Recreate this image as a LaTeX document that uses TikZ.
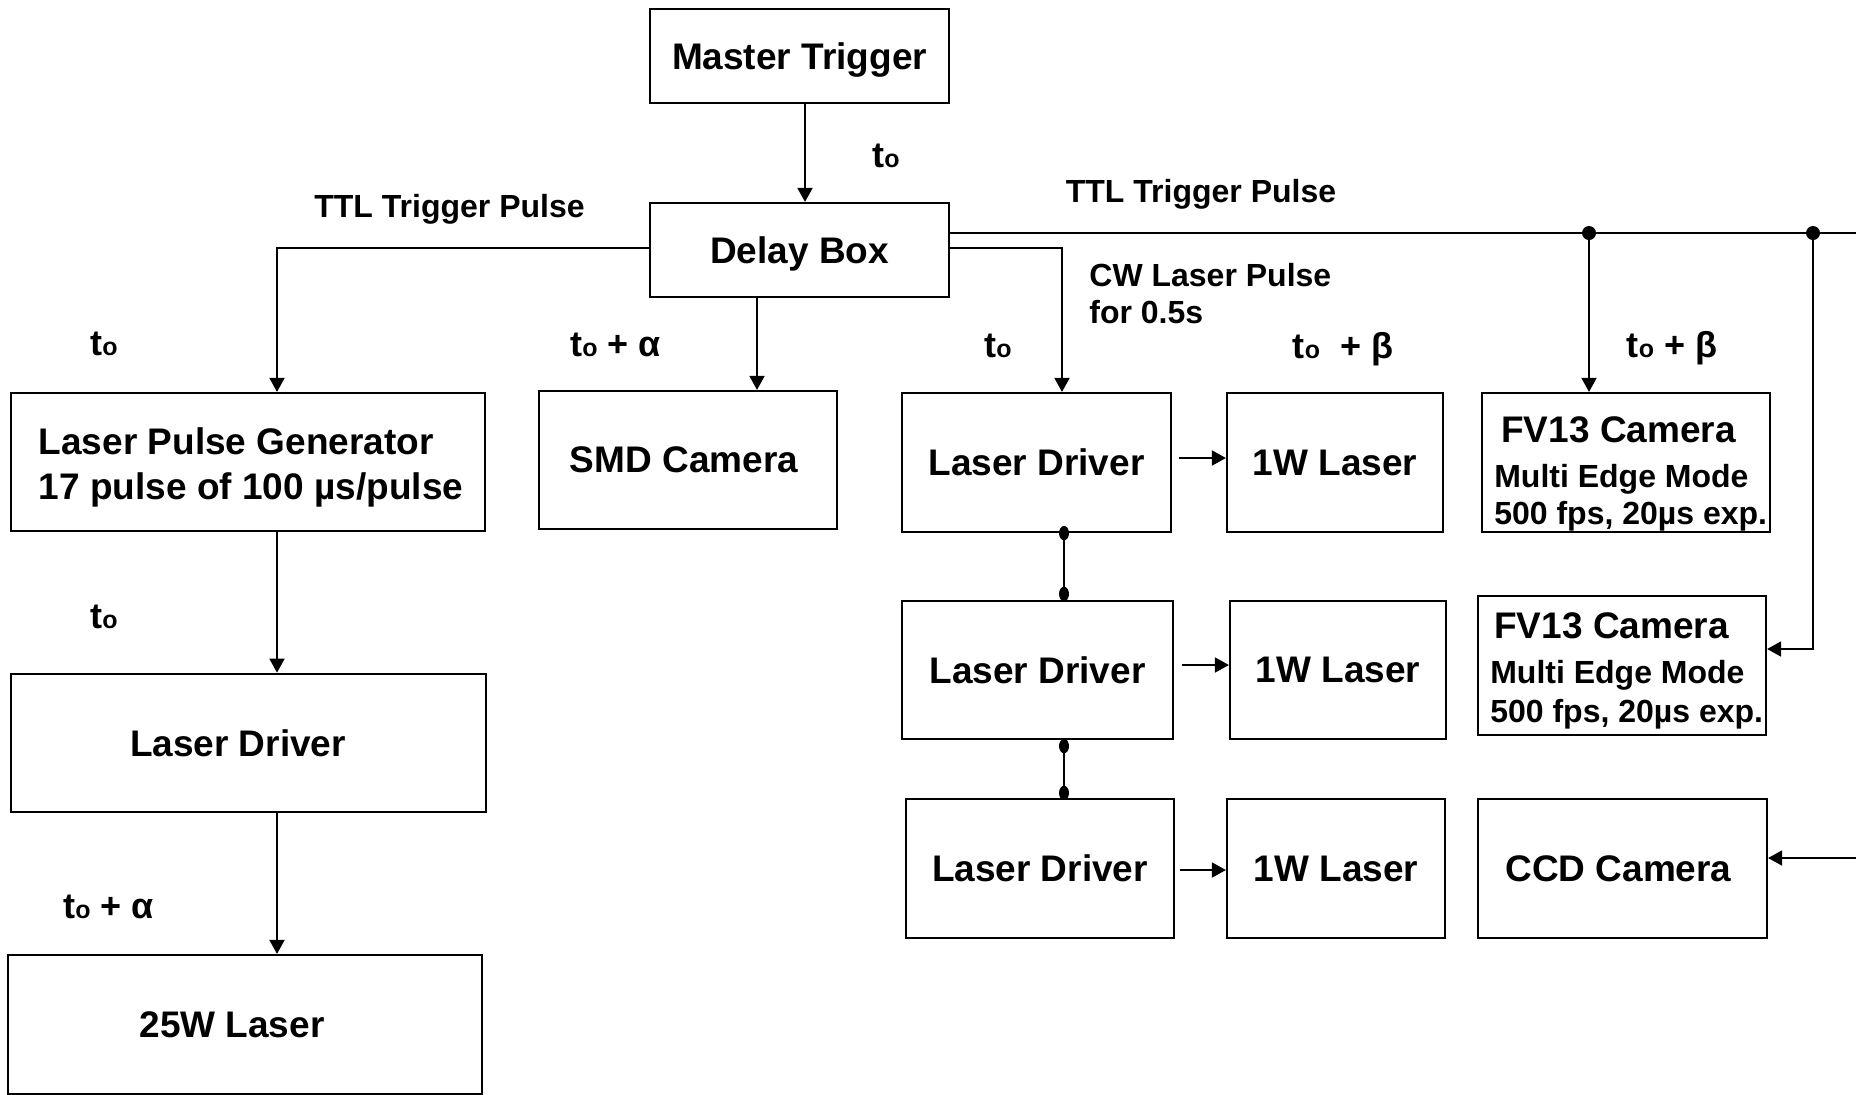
\documentclass[tikz,border=0pt]{standalone}
\usepackage{fontspec}
\setmainfont{Liberation Sans}
\usetikzlibrary{arrows.meta,calc}
\newcommand{\tz}{t{\fontsize{12.5}{12.5}\selectfont o}}
\newcommand{\bigtxt}{\fontsize{18.5}{22}\selectfont}
\begin{document}
\begin{tikzpicture}[x=0.5pt,y=-0.5pt,
  box/.style={draw, line width=1.1pt, inner sep=0pt, font=\bigtxt\bfseries, anchor=center},
  lbl/.style={font=\fontsize{16}{18.5}\selectfont\bfseries, inner sep=0pt},
  tl/.style={font=\fontsize{18}{20}\selectfont\bfseries, inner sep=0pt, anchor=base},
  con/.style={line width=0.85pt},
  arr/.style={con, -{Triangle[length=7pt,width=7.5pt]}},
]
\useasboundingbox (0,0) rectangle (1856,1094);

% boxes
\node[box, minimum width=149.5pt, minimum height=47pt, text depth=0pt] (mt) at (799.5,56) {Master Trigger};
\node[box, minimum width=149.5pt, minimum height=47pt, text depth=0pt] (db) at (799.5,250) {Delay Box};
\node[box, minimum width=237pt, minimum height=69pt, align=left] (lpg) at (248,462)
  {\rule{0pt}{18.5pt}\hspace*{3pt}Laser Pulse Generator\\[0.5pt]\hspace*{3pt}17 pulse of 100 µs/pulse};
\node[box, minimum width=237.5pt, minimum height=69.25pt] (ld0) at (248.5,743) {Laser Driver\hspace*{10.5pt}};
\node[box, minimum width=237pt, minimum height=69.5pt] (l25) at (245,1024.5) {25W Laser\hspace*{13pt}};
\node[box, minimum width=149pt, minimum height=69pt] (smd) at (688,460) {SMD Camera\hspace*{4pt}};

\node[box, minimum width=134.5pt, minimum height=69.5pt] (ld1) at (1036.5,462.5) {Laser Driver};
\node[box, minimum width=135.5pt, minimum height=69pt] (ld2) at (1037.5,670) {Laser Driver};
\node[box, minimum width=134pt, minimum height=69.5pt] (ld3) at (1040,868.5) {Laser Driver};
\node[box, minimum width=108pt, minimum height=69.5pt] (w1) at (1335,462.5) {1W Laser};
\node[box, minimum width=108pt, minimum height=69pt] (w2) at (1338,670) {1W Laser};
\node[box, minimum width=109pt, minimum height=69.5pt] (w3) at (1336,868.5) {1W Laser};
\node[box, minimum width=144pt, minimum height=69.5pt] (fv1) at (1626,462.5) {};
\node[box, minimum width=144pt, minimum height=69.5pt] (fv2) at (1622,665.5) {};
\node[box, minimum width=144.5pt, minimum height=69.5pt] (ccd) at (1622.5,868.5) {CCD Camera\hspace*{4pt}};

\node[lbl, anchor=north west, align=left] (fv1t) at ([xshift=6.5pt]fv1.north west)
  {\rule{0pt}{25.25pt}{\bigtxt\hspace*{3.5pt}FV13 Camera}\\[4pt]Multi Edge Mode\\500 fps, 20µs exp.};
\node[lbl, anchor=north west, align=left] (fv2t) at ([xshift=6.5pt]fv2.north west)
  {\rule{0pt}{21.75pt}{\bigtxt\hspace*{2pt}FV13 Camera}\\[4pt]Multi Edge Mode\\[1pt]500 fps, 20µs exp.};

% helper coordinates
\coordinate (xl) at (277,0);
\coordinate (xs) at (757,0);
\coordinate (xc) at (1062,0);
\coordinate (xv) at (1064,0);
\coordinate (d1) at (1589,233);
\coordinate (d2) at (1813,233);
\coordinate (re) at (1856,233);
\coordinate (c2) at (1813,649);
\coordinate (re2) at (1856,858);

% connectors
\draw[arr] ([xshift=2.75pt]mt.south) -- ([xshift=2.75pt]db.north);
\draw[arr] ([yshift=1pt]db.west) -| (xl |- lpg.north);
\draw[arr] (xl |- lpg.south) -- (xl |- ld0.north);
\draw[arr] (xl |- ld0.south) -- (xl |- l25.north);
\draw[arr] (xs |- db.south) -- (xs |- smd.north);
\draw[con] ([yshift=8.5pt]db.east) -- (re);
\draw[arr] ([yshift=1pt]db.east) -| (xc |- ld1.north);
\fill (d1) circle (3.5pt);
\fill (d2) circle (3.5pt);
\draw[arr] (d1) -- (d1 |- fv1.north);
\draw[arr] (d2) -- (c2) -- (c2 -| fv2.east);
\draw[arr] (re2) -- (re2 -| ccd.east);

\draw[arr, shorten <=3.5pt] ([yshift=2.25pt]ld1.east) -- ([yshift=2.25pt]ld1.east -| w1.west);
\draw[arr, shorten <=4pt] ([yshift=2.5pt]ld2.east) -- ([yshift=2.5pt]ld2.east -| w2.west);
\draw[arr, shorten <=2.5pt] ([yshift=-0.75pt]ld3.east) -- ([yshift=-0.75pt]ld3.east -| w3.west);

\draw[con] (xv |- ld1.south) -- (xv |- ld2.north);
\draw[con] (xv |- ld2.south) -- (xv |- ld3.north);
\fill (xv |- ld1.south) ellipse [x radius=2.5pt, y radius=3.6pt];
\fill ([yshift=3pt]xv |- ld2.north) ellipse [x radius=2.5pt, y radius=3.6pt];
\fill ([yshift=-3pt]xv |- ld2.south) ellipse [x radius=2.5pt, y radius=3.6pt];
\fill ([yshift=2.5pt]xv |- ld3.north) ellipse [x radius=2.5pt, y radius=3.6pt];

% labels
\node[tl] (t1) at (886,167) {\tz};
\node[lbl, anchor=base] (ttl1) at (449.5,217) {TTL Trigger Pulse};
\node[tl] (t2) at (104,355) {\tz};
\node[tl] (t3) at (104,628) {\tz};
\node[tl] (t4) at (108.5,918) {\tz{} + α};
\node[tl] (t5) at (615.5,356) {\tz{} + α};
\node[lbl, anchor=base] (ttl2) at (1201,202) {TTL Trigger Pulse};
\node[lbl, anchor=north west, align=left] (cw) at (1089,262) {\rule{0pt}{12pt}CW Laser Pulse\\for 0.5s};
\node[tl] (t6) at (998,357) {\tz};
\node[tl] (t7) at (1343,358) {\tz\ \ + β};
\node[tl] (t8) at (1672,357) {\tz{} + β};
\end{tikzpicture}
\end{document}
